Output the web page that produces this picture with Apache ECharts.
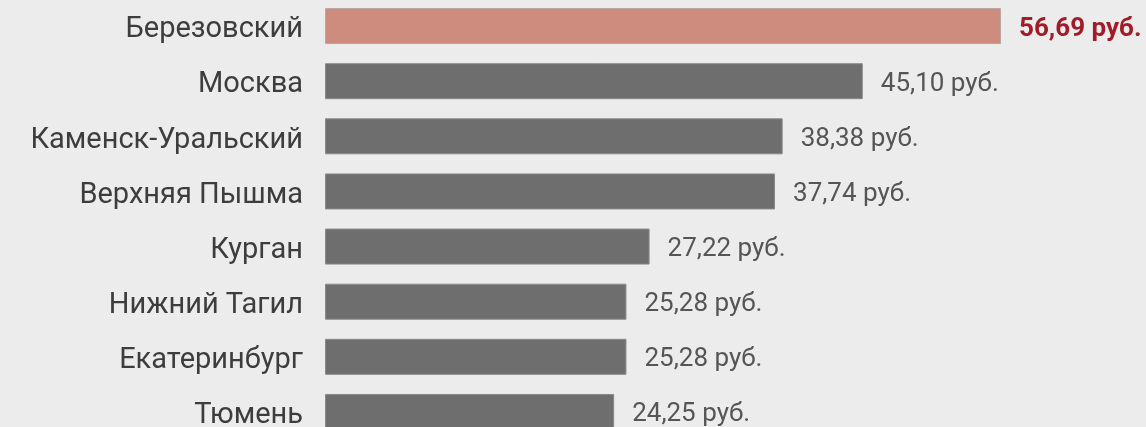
<!DOCTYPE html>
<html><head><meta charset="utf-8">
<script src="https://cdn.jsdelivr.net/npm/echarts@6/dist/echarts.min.js"></script>
<style>html,body{margin:0;padding:0;background:#ececec;}#c{width:1146px;height:427px;}</style>
</head><body><div id="c"></div>
<script>
const categories = ["Березовский","Москва","Каменск-Уральский","Верхняя Пышма","Курган","Нижний Тагил","Екатеринбург","Тюмень"];
const values = [56.69, 45.10, 38.38, 37.74, 27.22, 25.28, 25.28, 24.25];
const highlightIndex = 0;

const chart = echarts.init(document.getElementById('c'), null, {renderer:'canvas'});
const fmt = v => v.toFixed(2).replace('.', ',') + ' руб.';
chart.setOption({
  backgroundColor: '#ececec',
  animation: false,
  grid: {left: 325, right: 145, top: -1.5, height: 441, containLabel: false, outerBoundsMode: 'none'},
  xAxis: {type: 'value', min: 0, max: 56.69, show: false},
  yAxis: {
    type: 'category', data: categories, inverse: true,
    axisLine: {show: false}, axisTick: {show: false},
    axisLabel: {margin: 22, formatter: v => '{a|' + v + '}',
      rich: {a: {fontFamily: 'Roboto', fontSize: 29, color: '#3d3d3d', padding: [8, 0, 0, 0]}}}
  },
  series: [{
    type: 'bar', barWidth: 36,
    data: values.map((v, i) => ({
      value: v,
      itemStyle: {color: i === highlightIndex ? '#cd8c7e' : '#6e6e6e', borderColor: i === highlightIndex ? '#b8a8a2' : '#8a8a8a', borderWidth: 1},
      label: i === highlightIndex ? {color: '#a01c28', fontWeight: 'bold'} : {}
    })),
    label: {show: true, position: 'right', distance: 18, offset: [0, 3], fontFamily: 'Roboto', fontSize: 26, color: '#555555',
      formatter: p => fmt(p.value)}
  }]
});
</script></body></html>
